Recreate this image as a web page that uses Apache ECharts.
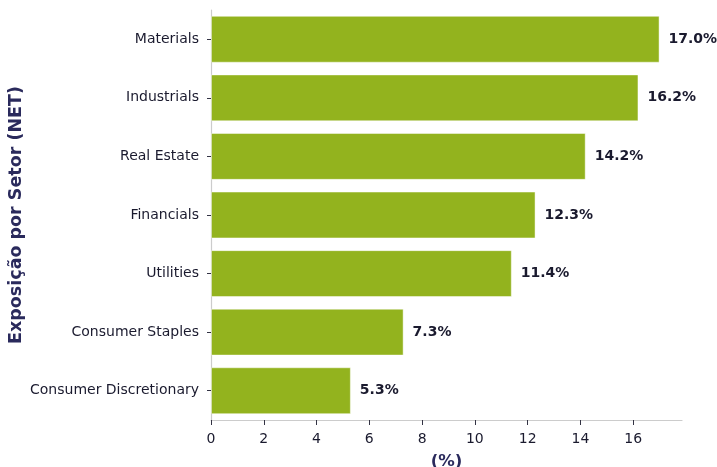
<!DOCTYPE html>
<html><head><meta charset="utf-8">
<script src="https://cdn.jsdelivr.net/npm/echarts@6/dist/echarts.min.js"></script>
<style>html,body{margin:0;padding:0;background:#fff}#c{width:717px;height:467px}</style>
</head><body><div id="c"></div>
<script>
const categories = ["Consumer Discretionary","Consumer Staples","Utilities","Financials","Real Estate","Industrials","Materials"];
const values = [5.3, 7.3, 11.4, 12.3, 14.2, 16.2, 17.0];
const xTicks = [0, 2, 4, 6, 8, 10, 12, 14, 16];
const chart = echarts.init(document.getElementById('c'));
chart.setOption({
  animation: false,
  backgroundColor: '#ffffff',
  textStyle: {fontFamily: 'DejaVu Sans'},
  grid: {left: 211, right: 35, top: 10, bottom: 47, containLabel: false, outerBoundsMode: 'none'},
  xAxis: {
    type: 'value', min: 0, max: 17.85, interval: 2,
    name: '(%)', nameLocation: 'middle', nameGap: 33, nameMoveOverlap: false,
    nameTextStyle: {fontSize: 16.5, fontWeight: 'bold', color: '#2a2a5c', fontFamily: 'DejaVu Sans'},
    axisLine: {show: true, lineStyle: {color: '#cccccc', width: 1.2}},
    axisTick: {show: true, length: 5, lineStyle: {color: '#333344', width: 1}},
    axisLabel: {fontSize: 14, color: '#1a1a2e', margin: 12, fontFamily: 'DejaVu Sans',
      showMaxLabel: false,
      formatter: v => xTicks.indexOf(v) >= 0 ? String(v) : ''},
    splitLine: {show: false}
  },
  yAxis: {
    type: 'category', data: categories, boundaryGap: true,
    name: 'Exposição por Setor (NET)', nameLocation: 'middle', nameGap: 186, nameMoveOverlap: false,
    nameTextStyle: {fontSize: 17.5, fontWeight: 'bold', color: '#2a2a5c', fontFamily: 'DejaVu Sans'},
    axisLine: {show: true, lineStyle: {color: '#cccccc', width: 1.2}},
    axisTick: {show: true, length: 4, alignWithLabel: true, lineStyle: {color: '#333344', width: 1}},
    axisLabel: {fontSize: 14, color: '#1a1a2e', margin: 12, fontFamily: 'DejaVu Sans'},
    splitLine: {show: false}
  },
  series: [{
    type: 'bar', data: values, barWidth: '80%',
    itemStyle: {color: '#93b31e', borderColor: 'rgba(255,255,255,0.45)', borderWidth: 1},
    label: {show: true, position: 'right', distance: 9, formatter: p => p.value.toFixed(1) + '%',
      fontSize: 14, fontWeight: 'bold', color: '#1a1a2e', fontFamily: 'DejaVu Sans'}
  }]
});
</script></body></html>
